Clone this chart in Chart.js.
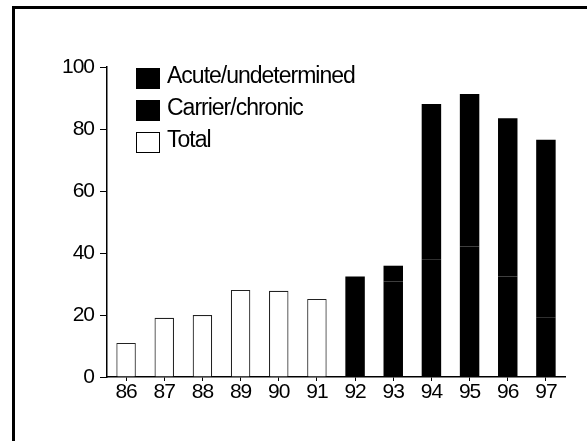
<!DOCTYPE html>
<html>
<head>
<meta charset="utf-8">
<script src="https://cdn.jsdelivr.net/npm/chart.js@4/dist/chart.umd.min.js"></script>
<style>
  body { margin: 0; background: #fff; }
  #wrap { width: 587px; height: 441px; }
</style>
</head>
<body>
<div id="wrap"><canvas id="chart" width="587" height="441"></canvas></div>
<script>
const years = ['86', '87', '88', '89', '90', '91', '92', '93', '94', '95', '96', '97']
const total = [11.0, 19.1, 20.0, 28.1, 27.8, 25.2, null, null, null, null, null, null]
const acute = [null, null, null, null, null, null, 32.4, 30.8, 37.8, 42.1, 32.4, 19.1]
const carrier = [null, null, null, null, null, null, 0, 5.1, 50.3, 49.2, 51.1, 57.4]
const yTicks = [0, 20, 40, 60, 80, 100]

const FONT = 'Liberation Sans, Arial, sans-serif'

// frame round the whole picture, and the tight letter spacing of the original
const framePlugin = {
  id: 'frame',
  beforeDraw(chart) {
    const ctx = chart.ctx
    ctx.letterSpacing = '-1px'
    ctx.save()
    ctx.fillStyle = '#fff'
    ctx.fillRect(0, 0, chart.width, chart.height)
    ctx.strokeStyle = '#000'
    ctx.lineWidth = 3
    ctx.strokeRect(13.5, 7.5, 600, 500)
    ctx.restore()
  }
}

// legend drawn inside the plot, top left
const legendPlugin = {
  id: 'boxLegend',
  afterDraw(chart) {
    const ctx = chart.ctx
    const order = [1, 2, 0]
    ctx.save()
    ctx.font = '23px ' + FONT
    ctx.letterSpacing = '-1px'
    ctx.textBaseline = 'middle'
    order.forEach((di, i) => {
      const ds = chart.data.datasets[di]
      const y = 68 + i * 32
      ctx.fillStyle = ds.backgroundColor
      ctx.fillRect(136, y, 24, 21)
      ctx.strokeStyle = '#000'
      ctx.lineWidth = 1
      ctx.strokeRect(136.5, y + 0.5, 23, 20)
      ctx.fillStyle = '#000'
      ctx.fillText(ds.label, 167, y + 9)
    })
    ctx.restore()
  }
}

const ctx = document.getElementById('chart').getContext('2d')
const myChart = new Chart(ctx, {
  type: 'bar',
  data: {
    labels: years,
    datasets: [
      {
        label: 'Total',
        data: total,
        backgroundColor: '#ffffff',
        borderColor: '#222',
        borderWidth: 1.2
      },
      {
        label: 'Acute/undetermined',
        data: acute,
        backgroundColor: '#000000',
        borderWidth: 0
      },
      {
        label: 'Carrier/chronic',
        data: carrier,
        backgroundColor: '#000000',
        borderWidth: 0
      }
    ]
  },
  options: {
    responsive: false,
    animation: false,
    events: [],
    layout: { padding: { left: 0, top: 67, right: 22, bottom: 0 } },
    datasets: {
      bar: { categoryPercentage: 1, barPercentage: 0.51 }
    },
    plugins: {
      legend: { display: false },
      tooltip: { enabled: false }
    },
    scales: {
      x: {
        stacked: true,
        afterFit: s => { s.height = 64 },
        border: { display: true, color: '#000', width: 1.5 },
        grid: { offset: false, drawOnChartArea: false, drawTicks: true, tickLength: 4, color: '#000' },
        ticks: { color: '#000', padding: -1, font: { family: FONT, size: 21 } }
      },
      y: {
        stacked: true,
        min: 0,
        max: 100,
        afterFit: s => { s.width = 107 },
        afterBuildTicks: s => { s.ticks = yTicks.map(v => ({ value: v })) },
        border: { display: true, color: '#000', width: 1.5 },
        grid: { drawOnChartArea: false, drawTicks: true, tickLength: 7, color: '#000' },
        ticks: { color: '#000', padding: 6, font: { family: FONT, size: 21 } }
      }
    }
  },
  plugins: [framePlugin, legendPlugin]
})
</script>
</body>
</html>
